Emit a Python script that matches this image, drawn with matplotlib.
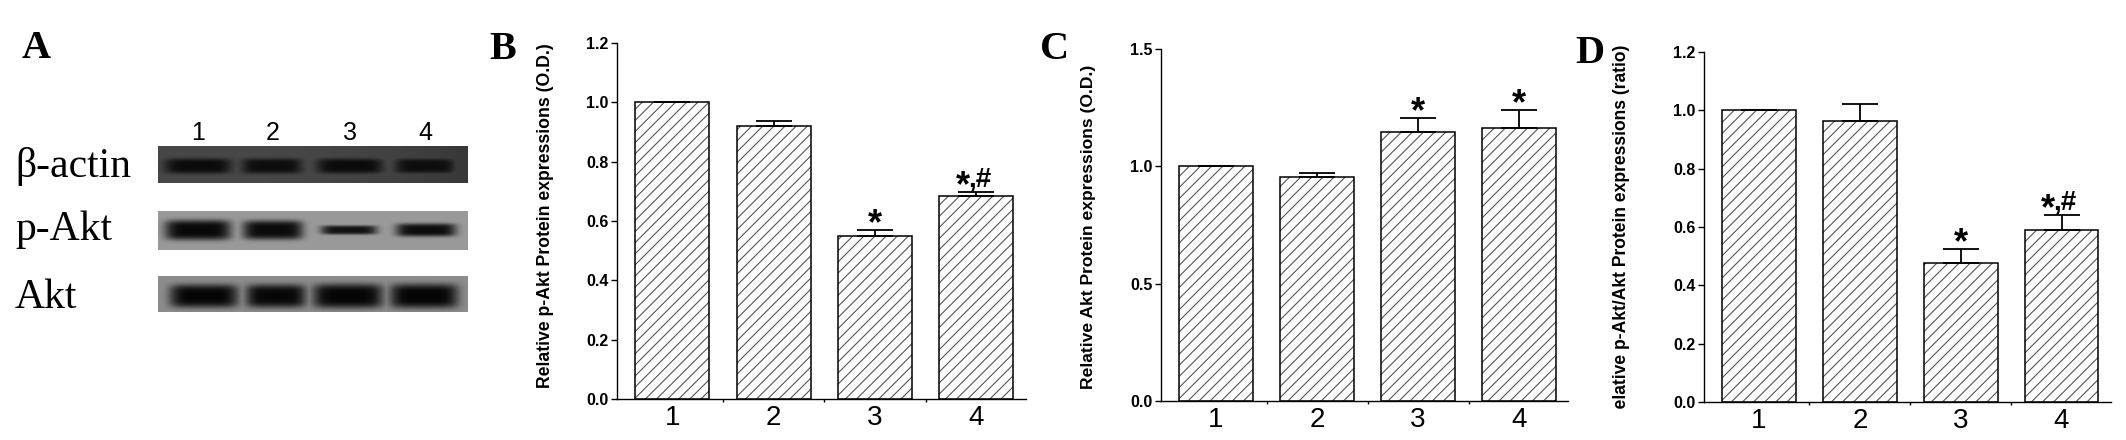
import numpy as np
import matplotlib
matplotlib.use('Agg')
import matplotlib.pyplot as plt
from matplotlib.transforms import Bbox

W, H, DPI = 2126, 440, 100

# ---------------- data ----------------
groups = ['1', '2', '3', '4']

pakt_mean = [1.0, 0.92, 0.549, 0.683]
pakt_err = [0.0, 0.017, 0.019, 0.016]
pakt_marks = ['', '', '*', '*,#']

akt_mean = [1.0, 0.953, 1.147, 1.163]
akt_err = [0.0, 0.018, 0.059, 0.078]
akt_marks = ['', '', '*', '*']

ratio_mean = [1.0, 0.963, 0.478, 0.590]
ratio_err = [0.0, 0.058, 0.046, 0.052]
ratio_marks = ['', '', '*', '*,#']

# western blot (panel A) band description
blot_rows = ['β-actin', 'p-Akt', 'Akt']
blot_lanes = ['1', '2', '3', '4']
strip_bg = [0.28, 0.60, 0.55]
band_level = [[0.04, 0.05, 0.04, 0.05],
              [0.03, 0.04, 0.07, 0.05],
              [0.02, 0.03, 0.02, 0.02]]
band_halfwidth = [[33, 30, 33, 30],
                  [33, 30, 28, 30],
                  [34, 30, 35, 34]]
band_halfheight = [[7.5, 7.5, 7.5, 7.5],
                   [10.0, 9.5, 4.5, 6.5],
                   [11.5, 11.5, 12.0, 12.0]]

# ---------------- layout (pixels) ----------------
strip_x = (158, 468)
strip_y = [(146, 183), (211, 250), (276, 312)]
band_y = [166, 230, 296]
lane_x = [[198, 272, 350, 425], [198, 273, 349, 426], [204, 276, 348, 424]]
lane_label_x = [198, 273, 350, 425]
row_label_base = [177, 240, 308]

plt.rcParams['font.family'] = ['Liberation Sans', 'DejaVu Sans']
plt.rcParams['hatch.linewidth'] = 0.8

fig = plt.figure(figsize=(W / DPI, H / DPI), dpi=DPI)
fig.patch.set_facecolor('white')

# overlay axes in pixel coordinates (y downward)
ov = fig.add_axes([0, 0, 1, 1], zorder=0)
ov.axis('off')

# ---- panel A: blot strips ----
for r in range(len(blot_rows)):
    x0, x1 = strip_x
    y0, y1 = strip_y[r]
    xs = np.arange(x0, x1) + 0.5
    ys = np.arange(y0, y1) + 0.5
    XX, YY = np.meshgrid(xs, ys)
    bg = strip_bg[r]
    img = np.full(XX.shape, bg)
    if r == 0:
        img = img - 0.06 * ((XX - x0) / (x1 - x0)) ** 3
    for j in range(len(blot_lanes)):
        dx = (XX - lane_x[r][j]) / band_halfwidth[r][j]
        dy = (YY - band_y[r]) / band_halfheight[r][j]
        prof = np.exp(-(dx ** 2) ** 3 - (dy ** 2) ** 2)
        img = np.minimum(img, bg - (bg - band_level[r][j]) * prof)
    ov.imshow(img, cmap='gray', vmin=0, vmax=1, extent=[x0, x1, y1, y0],
              aspect='auto', interpolation='bilinear')

for r, name in enumerate(blot_rows):
    ov.text(15, row_label_base[r], name, family='Liberation Serif', fontsize=30,
            ha='left', va='baseline')
for j, lab in enumerate(blot_lanes):
    ov.text(lane_label_x[j], 140, lab, fontsize=18, ha='center', va='baseline')

ov.set_xlim(0, W)
ov.set_ylim(H, 0)

# panel letters
for letter, lx, ly in [('A', 22, 58), ('B', 489, 59), ('C', 1040, 59), ('D', 1575, 63)]:
    ov.text(lx, ly, letter, family='Liberation Serif', fontweight='bold',
            fontsize=29, ha='left', va='baseline')


def px_axes(l, r, t, b):
    return fig.add_axes([l / W, 1 - b / H, (r - l) / W, (b - t) / H], zorder=2)


def bar_panel(ax, means, errs, marks, ylim, yticks, xlim):
    x = np.arange(1, len(groups) + 1)
    ax.set_facecolor('none')
    ax.bar(x, means, width=0.73, color='white', edgecolor='#555555',
           linewidth=0, hatch='///', zorder=2)
    ax.bar(x, means, width=0.73, fill=False, edgecolor='black',
           linewidth=1.1, zorder=3)
    ax.errorbar(x, means, yerr=[np.zeros(len(errs)), errs], fmt='none',
                ecolor='black', elinewidth=1.3, capsize=13, capthick=1.3, zorder=4)
    for xi, m, e, mk in zip(x, means, errs, marks):
        if not mk:
            continue
        top = m + e
        if mk == '*':
            ax.annotate('*', xy=(xi, top), xytext=(0, -3), textcoords='offset points',
                        ha='center', va='baseline', fontsize=26, fontweight='bold')
        else:
            ax.annotate('*', xy=(xi, top), xytext=(-9.5, -3), textcoords='offset points',
                        ha='center', va='baseline', fontsize=26, fontweight='bold')
            ax.annotate(mk[1:], xy=(xi, top), xytext=(-6, 3.5), textcoords='offset points',
                        ha='left', va='baseline', fontsize=20, fontweight='bold')
    ax.set_xlim(*xlim)
    ax.set_ylim(*ylim)
    ax.set_yticks(yticks)
    ax.set_yticklabels([f'{v:.1f}' for v in yticks], fontsize=11.5, fontweight='bold')
    ax.set_xticks(x)
    ax.set_xticklabels(groups, fontsize=20)
    ax.set_xticks([1.5, 2.5, 3.5], minor=True)
    ax.tick_params(axis='x', which='major', length=0, pad=4)
    ax.tick_params(axis='x', which='minor', length=2, width=1, direction='out')
    ax.tick_params(axis='y', length=4, width=1, direction='out', pad=2)
    for s in ['top', 'right']:
        ax.spines[s].set_visible(False)
    for s in ['left', 'bottom']:
        ax.spines[s].set_linewidth(1.0)


axB = px_axes(617, 1026, 43, 399)
bar_panel(axB, pakt_mean, pakt_err, pakt_marks, (0, 1.2),
          [0.0, 0.2, 0.4, 0.6, 0.8, 1.0, 1.2], (0.455, 4.49))
axC = px_axes(1161, 1568, 49, 401)
bar_panel(axC, akt_mean, akt_err, akt_marks, (0, 1.5),
          [0.0, 0.5, 1.0, 1.5], (0.455, 4.485))
axD = px_axes(1704, 2111, 52, 402)
bar_panel(axD, ratio_mean, ratio_err, ratio_marks, (0, 1.2),
          [0.0, 0.2, 0.4, 0.6, 0.8, 1.0, 1.2], (0.455, 4.49))

# y labels, fitted to the measured length
renderer = fig.canvas.get_renderer()
ylabels = [
    ('Relative p-Akt Protein expressions (O.D.)', 546, 43.5, 345, None),
    ('Relative Akt Protein expressions (O.D.)', 1088, 65, 325, None),
    ('Relative p-Akt/Akt Protein expressions (ratio)', 1622, 45, 377, 410),
]
for txt, cx, top, length, clip_bottom in ylabels:
    t = ov.text(cx, top, txt, rotation=90, ha='center', va='top',
                fontsize=10, fontweight='bold')
    h = t.get_window_extent(renderer).height
    t.set_fontsize(10 * length / h)
    if clip_bottom is not None:
        t.set_clip_box(Bbox.from_extents(cx - 40, H - clip_bottom, cx + 40, H))
        t.set_clip_on(True)

fig.savefig('out.png', dpi=DPI, facecolor='white')
